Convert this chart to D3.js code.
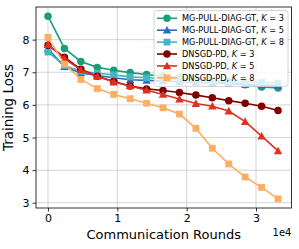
<!DOCTYPE html>
<html>
<head>
<meta charset="utf-8">
<script src="https://cdn.jsdelivr.net/npm/d3@7"></script>
<style>
    body { margin: 0; background: #fff; }
    text { font-family: "DejaVu Sans", sans-serif; fill: #000; }
</style>
</head>
<body>
<div id="chart"></div>
<script>
// Communication rounds (x values) shared by all series
const rounds = [0, 2370, 4740, 7110, 9480, 11850, 14220, 16590, 18960, 21330, 23700, 26070, 28440, 30810, 33180];

const mgK3 = [8.72, 7.73, 7.33, 7.15, 7.06, 6.99, 6.93, 6.88, 6.83, 6.78, 6.73, 6.68, 6.62, 6.55, 6.52];
const mgK5 = [7.72, 7.17, 6.98, 6.90, 6.83, 6.77, 6.75, 6.73, 6.71, 6.69, 6.67, 6.65, 6.63, 6.61, 6.59];
const mgK8 = [7.62, 7.21, 7.03, 6.97, 6.92, 6.86, 6.83, 6.81, 6.79, 6.77, 6.75, 6.73, 6.71, 6.69, 6.67];
const dnK3 = [7.83, 7.46, 7.09, 6.88, 6.72, 6.58, 6.49, 6.44, 6.38, 6.30, 6.22, 6.13, 6.05, 5.96, 5.83];
const dnK5 = [7.85, 7.42, 7.07, 6.87, 6.70, 6.58, 6.45, 6.32, 6.18, 6.04, 5.96, 5.81, 5.49, 5.04, 4.59];
const dnK8 = [8.07, 7.25, 6.78, 6.50, 6.32, 6.19, 6.05, 5.91, 5.72, 5.28, 4.67, 4.19, 3.79, 3.47, 3.12];

const seriesNames = ["MG-PULL-DIAG-GT", "MG-PULL-DIAG-GT", "MG-PULL-DIAG-GT", "DNSGD-PD", "DNSGD-PD", "DNSGD-PD"];
const seriesK = [3, 5, 8, 3, 5, 8];

const xTicks = [0, 10000, 20000, 30000];
const xTickLabels = ["0", "1", "2", "3"];
const yTicks = [3, 4, 5, 6, 7, 8];

let series = [
    {values: mgK3, color: "#1b9e77", marker: "circle"},
    {values: mgK5, color: "#2f6bbf", marker: "triangle"},
    {values: mgK8, color: "#41b6c4", marker: "square"},
    {values: dnK3, color: "#800000", marker: "circle"},
    {values: dnK5, color: "#e0301e", marker: "triangle"},
    {values: dnK8, color: "#fdae61", marker: "square"}
];
series.forEach((s, i) => { s.name = seriesNames[i]; s.k = seriesK[i]; });

let totalWidth = 299, totalHeight = 249;
let margin = {top: 7, right: 7.5, bottom: 41, left: 36};
let width = totalWidth - margin.left - margin.right;
let height = totalHeight - margin.top - margin.bottom;

let xScale = d3.scaleLinear().domain([-1730, 35120]).range([0, width]);
let yScale = d3.scaleLinear().domain([2.84, 9.0]).range([height, 0]);

let svg = d3.select("#chart").append("svg")
    .attr("width", totalWidth)
    .attr("height", totalHeight)
    .append("g")
    .attr("transform", `translate(${margin.left},${margin.top})`);

// Grid
svg.append("g").selectAll("line").data(xTicks).join("line")
    .attr("x1", d => xScale(d)).attr("x2", d => xScale(d))
    .attr("y1", 0).attr("y2", height)
    .style("stroke", "#b0b0b0").style("stroke-opacity", 0.65).style("stroke-width", 0.8);
svg.append("g").selectAll("line").data(yTicks).join("line")
    .attr("x1", 0).attr("x2", width)
    .attr("y1", d => yScale(d)).attr("y2", d => yScale(d))
    .style("stroke", "#b0b0b0").style("stroke-opacity", 0.65).style("stroke-width", 0.8);

// Axes
let xAxis = svg.append("g")
    .attr("transform", `translate(0,${height})`)
    .call(d3.axisBottom(xScale).tickValues(xTicks).tickFormat((d, i) => xTickLabels[i]).tickSize(3.5).tickPadding(3));
let yAxis = svg.append("g")
    .call(d3.axisLeft(yScale).tickValues(yTicks).tickFormat(d3.format("d")).tickSize(3.5).tickPadding(3));
[xAxis, yAxis].forEach(a => {
    a.select(".domain").remove();
    a.selectAll("line").style("stroke", "#000").style("stroke-width", 0.8);
    a.selectAll("text").style("font-size", "11px").style("font-family", "DejaVu Sans");
});

// Lines and markers
let line = d3.line()
    .x((d, i) => xScale(rounds[i]))
    .y(d => yScale(d));

function drawMarker(g, type, color, size) {
    if (type === "circle") {
        g.append("circle").attr("r", size * 0.55).style("fill", color);
    } else if (type === "square") {
        g.append("rect").attr("x", -size * 0.5).attr("y", -size * 0.5)
            .attr("width", size).attr("height", size).style("fill", color);
    } else {
        let s = size * 0.62;
        g.append("path").attr("d", `M0,${-s}L${s},${s * 0.8}L${-s},${s * 0.8}Z`).style("fill", color);
    }
}

series.forEach(s => {
    svg.append("path").datum(s.values).attr("d", line)
        .style("fill", "none").style("stroke", s.color).style("stroke-width", 1.6);
    s.values.forEach((v, i) => {
        let g = svg.append("g").attr("transform", `translate(${xScale(rounds[i])},${yScale(v)})`);
        drawMarker(g, s.marker, s.color, 6.8);
    });
});

// Frame
svg.append("rect").attr("width", width).attr("height", height)
    .style("fill", "none").style("stroke", "#000").style("stroke-width", 0.8);

// Legend
let legend = svg.append("g").attr("transform", `translate(${154 - margin.left},${10.5 - margin.top})`);
legend.append("rect").attr("width", 134).attr("height", 76).attr("rx", 2.5)
    .style("fill", "#fff").style("fill-opacity", 0.8)
    .style("stroke", "#cccccc").style("stroke-width", 0.8);
series.forEach((s, i) => {
    let y = 7.8 + i * 11.9;
    legend.append("line").attr("x1", 3).attr("x2", 23).attr("y1", y).attr("y2", y)
        .style("stroke", s.color).style("stroke-width", 1.6);
    let g = legend.append("g").attr("transform", `translate(13,${y})`);
    drawMarker(g, s.marker, s.color, 6.8);
    let t = legend.append("text").attr("x", 28).attr("y", y + 3).style("font-size", "8.2px");
    t.append("tspan").text(s.name + ", ");
    t.append("tspan").style("font-style", "italic").text("K");
    t.append("tspan").text(" = " + s.k);
});

// Labels
svg.append("text").attr("x", width / 2).attr("y", height + 30.5)
    .attr("text-anchor", "middle").style("font-size", "13px").text("Communication Rounds");
svg.append("text").attr("transform", `translate(${-23},${height / 2}) rotate(-90)`)
    .attr("text-anchor", "middle").style("font-size", "13.5px").text("Training Loss");
svg.append("text").attr("x", width).attr("y", height + 28)
    .attr("text-anchor", "end").style("font-size", "10px").text("1e4");
</script>
</body>
</html>
